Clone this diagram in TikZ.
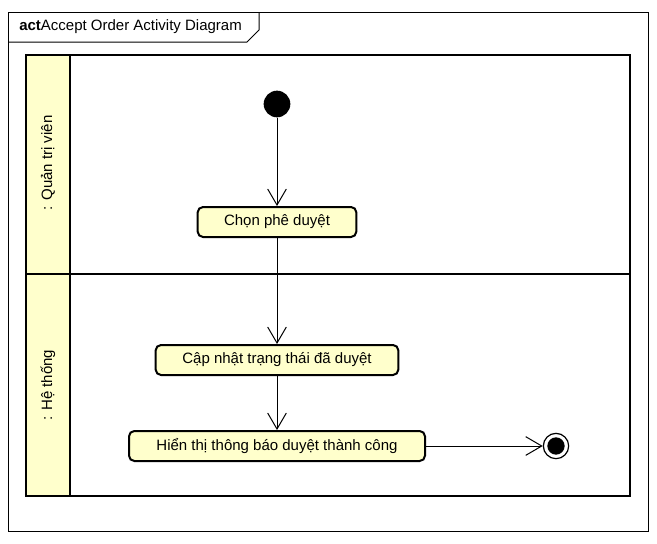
\documentclass[tikz,border=0pt]{standalone}
\usepackage{fontspec}
\setmainfont{Liberation Sans}
\usetikzlibrary{arrows.meta, positioning}
\definecolor{umlyellow}{RGB}{255, 255, 204}

\begin{document}
\begin{tikzpicture}[
  x=0.75pt, y=-0.75pt,
  font=\fontsize{11.25}{13}\selectfont,
  actbox/.style={draw=black, fill=umlyellow, line width=1.5pt, rounded corners=4pt, inner sep=0pt, minimum height=22.5pt},
  lanehead/.style={draw=black, fill=umlyellow, line width=1.5pt},
  lanebody/.style={draw=black, line width=1.5pt},
  flow/.style={-{Straight Barb[length=12pt, width=14pt, line width=0.75pt]}, line width=0.75pt}
]
  \useasboundingbox (0,0) rectangle (657,543);
  % frame and title tab
  \draw[line width=0.75pt] (8,12) rectangle (648,531);
  \draw[line width=0.75pt] (8,42) -- (247,42) -- (259,30) -- (259,12);
  \node[anchor=west, inner sep=0pt] (title) at (19,27) {\textbf{act}Accept Order Activity Diagram};

  % swimlanes
  \draw[lanebody] (70,55) rectangle (630,274);
  \draw[lanebody] (70,274) rectangle (630,496);
  \draw[lanehead] (26,55) rectangle (70,274);
  \draw[lanehead] (26,274) rectangle (70,496);
  \node[rotate=90] (lane1) at (48,163) {: Quản trị viên};
  \node[rotate=90] (lane2) at (48,385) {: Hệ thống};

  % actions
  \node[circle, fill=black, minimum size=20pt, inner sep=0pt] (start) at (277,104) {};
  \node[actbox, minimum width=119pt] (choose) at (277,222) {Chọn phê duyệt};
  \node[actbox, minimum width=182pt] (update) at (277,360) {Cập nhật trạng thái đã duyệt};
  \node[actbox, minimum width=222pt] (notify) at (277,446) {Hiển thị thông báo duyệt thành công};
  \node[circle, draw=black, line width=0.9pt, fill=white, minimum size=19pt, inner sep=0pt] (final) at (556,446) {};
  \node[circle, fill=black, minimum size=13pt, inner sep=0pt] (finaldot) at (final) {};

  % flows
  \draw[flow] (start) -- (choose);
  \draw[flow] (choose) -- (update);
  \draw[flow] (update) -- (notify);
  \draw[flow] (notify) -- (final);
\end{tikzpicture}
\end{document}
